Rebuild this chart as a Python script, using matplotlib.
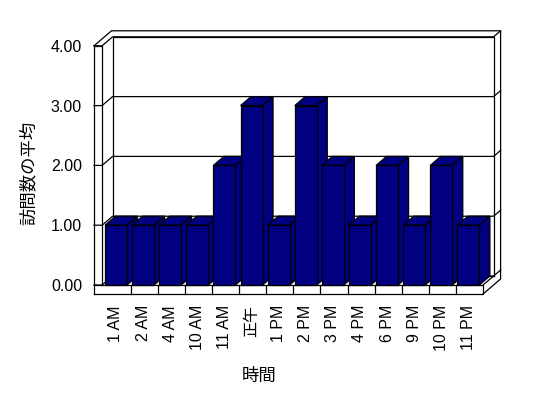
import numpy as np
import matplotlib.pyplot as plt

plt.rcParams['font.family'] = ['Liberation Sans', 'Noto Sans CJK JP']

# data
hours = ['1 AM', '2 AM', '4 AM', '10 AM', '11 AM', '正午', '1 PM', '2 PM',
         '3 PM', '4 PM', '6 PM', '9 PM', '10 PM', '11 PM']
visits = [1, 1, 1, 1, 2, 3, 1, 3, 2, 1, 2, 1, 2, 1]
y_ticks = [0, 1, 2, 3, 4]
y_labels = ['0.00', '1.00', '2.00', '3.00', '4.00']

navy = '#000080'
lw = 0.9

# pixel sizes of one category / one unit, used for the fake 3D depth
PX, PY = 27.11, 59.8
dx, dy = 10.5 / PX, 9 / PY      # depth of floor / bars
tx, ty = 7 / PX, 6 / PY         # back wall thickness
x_out, x_in = -9.6 / PX, -1.5 / PX
x_end = len(hours)
top = y_ticks[-1]
fl = -9 / PY                    # floor front face bottom

bw = 22 / PX
bar_left = np.arange(len(hours)) + 1.4 / PX

fig = plt.figure(figsize=(5.48, 3.98), dpi=100)
ax = fig.add_axes([103.6 / 548, 113 / 398, 379.5 / 548, 239.2 / 398])
ax.set_xlim(0, x_end)
ax.set_ylim(0, top)


def seg(xs, ys, z=1):
    ax.plot(xs, ys, color='k', lw=lw, clip_on=False, zorder=z)


# left wall front face
seg([x_out, x_out, x_in, x_in], [fl, top, top, 0])
# top of walls
seg([x_out, x_out + dx + tx, x_end + dx + tx, x_end + dx + tx, x_end],
    [top, top + dy + ty, top + dy + ty, fl + dy + ty, fl])
# back wall inner face
seg([x_in + dx, x_in + dx, x_end + dx, x_end + dx],
    [dy, top + dy, top + dy, dy])
seg([x_in + dx, x_end + dx], [dy, dy])
# gridlines
for v in y_ticks:
    seg([x_out, x_in, x_in + dx, x_end + dx, x_end + dx + tx],
        [v, v, v + dy, v + dy, v + dy + ty])
# floor
seg([x_out, x_end, x_end, x_out], [fl, fl, 0, 0], z=2)
seg([x_end, x_end + dx], [0, dy], z=2)
for k in range(1, len(hours)):
    seg([k, k], [fl, 0], z=2)

# bars
for i, v in enumerate(visits):
    L = bar_left[i]
    R = L + bw
    z = 3 + 2 * i
    ax.fill([L, L + dx, R + dx, R], [v, v + dy, v + dy, v],
            fc=navy, ec='k', lw=lw, zorder=z, clip_on=False)
    ax.fill([R, R + dx, R + dx, R], [0, dy, v + dy, v],
            fc=navy, ec='k', lw=lw, zorder=z, clip_on=False)
bars = ax.bar(bar_left, visits, width=bw, align='edge', color=navy,
              edgecolor='k', lw=lw, clip_on=False)
for i, b in enumerate(bars):
    b.set_zorder(4 + 2 * i)

ax.set_yticks(y_ticks, y_labels)
ax.set_xticks(bar_left + bw / 2, hours, rotation=90)
ax.tick_params(length=0, labelsize=11.5)
ax.tick_params(axis='y', pad=15.5)
ax.tick_params(axis='x', pad=14.4)
for s in ax.spines.values():
    s.set_visible(False)

ax.set_xlabel('時間', fontsize=12.5, va='center')
ax.xaxis.set_label_coords(0.41, -0.38)
ax.set_ylabel('訪問数の平均', fontsize=12.5, va='center')
ax.yaxis.set_label_coords(-0.199, 0.468)

fig.savefig('out.png', dpi=100)
